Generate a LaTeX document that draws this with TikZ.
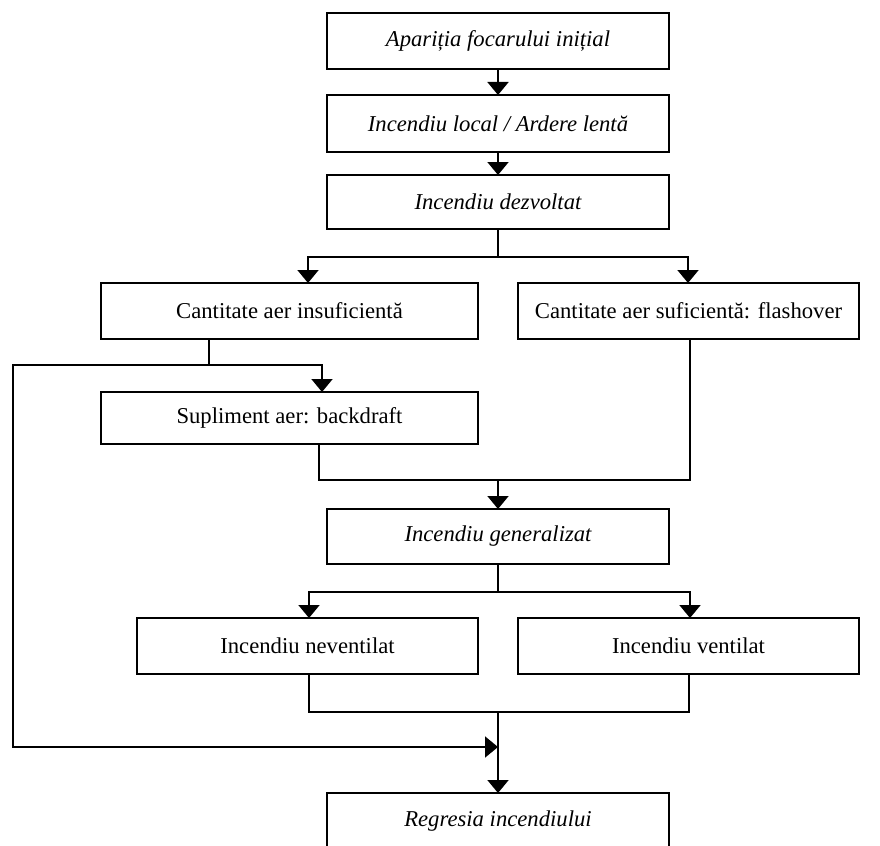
\documentclass[tikz,border=0pt]{standalone}
\usepackage{fontspec}
\setmainfont{Liberation Serif}
\usetikzlibrary{arrows.meta}
\begin{document}
\begin{tikzpicture}[x=0.75pt,y=-0.75pt,
  box/.style args={#1/#2}{draw,line width=1.4pt,inner sep=0pt,outer sep=0pt,
    minimum width=#1*0.75pt,minimum height=#2*0.75pt,font=\fontsize{17}{20}\selectfont},
  it/.style={font=\fontsize{17}{20}\selectfont\itshape},
  ln/.style={line width=1.4pt},
  arr/.style={ln,-{Triangle[width=15.75pt,length=9.75pt]}}]
\useasboundingbox (0,0) rectangle (880,845);
\begin{scope}
\clip (0,0) rectangle (880,845);
\node[box=342/56,it] (b1) at (498,41) {Apariția focarului inițial};
\node[box=342/57,it] (b2) at (498,123.5) {Incendiu local / Ardere lentă};
\node[box=342/54,it] (b3) at (498,202) {Incendiu dezvoltat};
\node[box=377/56] (b4) at (289.5,311) {Cantitate aer insuficientă};
\node[box=341/56] (b5) at (688.5,311) {Cantitate aer suficientă: flashover};
\node[box=377/52] (b6) at (289.5,418) {Supliment aer: backdraft};
\node[box=342/55,it] (b7) at (498,536.5) {Incendiu generalizat};
\node[box=341/56] (b8) at (307.5,646) {Incendiu neventilat};
\node[box=341/56] (b9) at (688.5,646) {Incendiu ventilat};
\node[box=342/56,it] (b10) at (498,821) {Regresia incendiului};

\draw[arr] (b1) -- (b2);
\draw[arr] (b2) -- (b3);

\coordinate (j1) at (498,257);
\coordinate (a4) at (308,257);
\coordinate (a5) at (688,257);
\draw[ln] (b3) -- (j1);
\draw[arr] (j1) -- (a4) -- (a4 |- b4.north);
\draw[arr] (j1) -- (a5) -- (a5 |- b5.north);

\coordinate (c4) at (209,365);
\coordinate (c6) at (322,365);
\coordinate (cl) at (13,365);
\coordinate (cl2) at (13,747);
\coordinate (m2) at (498,747);
\draw[arr] (c4 |- b4.south) -- (c4) -- (c6) -- (c6 |- b6.north);
\draw[arr] (c4) -- (cl) -- (cl2) -- (m2);

\coordinate (d6) at (319,480);
\coordinate (d5) at (690,480);
\coordinate (d7) at (498,480);
\draw[ln] (d6 |- b6.south) -- (d6) -- (d5) -- (d5 |- b5.south);
\draw[arr] (d7) -- (b7);

\coordinate (e7) at (498,592);
\coordinate (e8) at (309,592);
\coordinate (e9) at (690,592);
\draw[ln] (b7) -- (e7);
\draw[arr] (e7) -- (e8) -- (e8 |- b8.north);
\draw[arr] (e7) -- (e9) -- (e9 |- b9.north);

\coordinate (f8) at (309,712);
\coordinate (f9) at (689,712);
\coordinate (f0) at (498,712);
\draw[ln] (f8 |- b8.south) -- (f8) -- (f9) -- (f9 |- b9.south);
\draw[arr] (f0) -- (b10);
\end{scope}
\end{tikzpicture}
\end{document}
